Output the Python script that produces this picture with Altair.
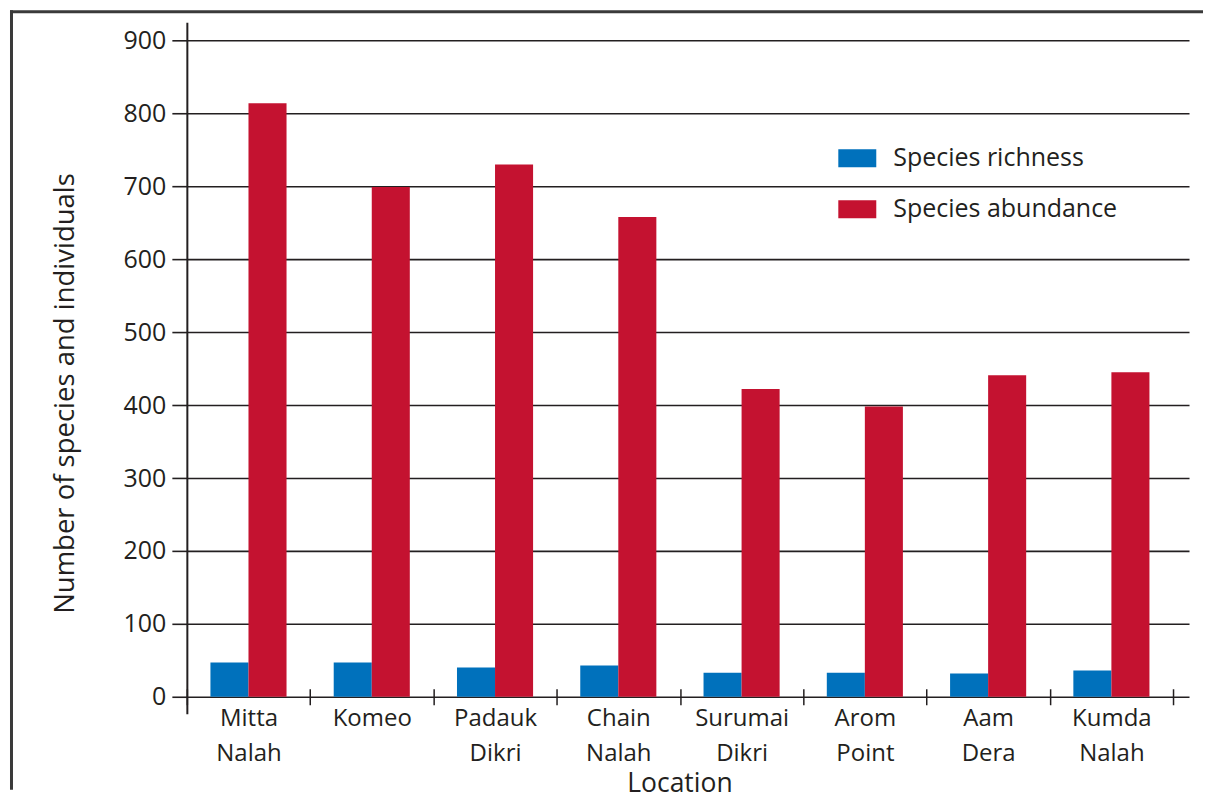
import altair as alt
import pandas as pd

locations = ["Mitta Nalah", "Komeo", "Padauk Dikri", "Chain Nalah",
             "Surumai Dikri", "Arom Point", "Aam Dera", "Kumda Nalah"]
richness = [47, 47, 40, 43, 33, 33, 32, 36]
abundance = [814, 699, 730, 658, 422, 398, 441, 445]
series = ["Species richness", "Species abundance"]
colors = ["#0071bc", "#c41230"]
y_ticks = [0, 100, 200, 300, 400, 500, 600, 700, 800, 900]

rows = []
for loc, r, a in zip(locations, richness, abundance):
    rows.append({"Location": loc, "Series": series[0], "Value": r})
    rows.append({"Location": loc, "Series": series[1], "Value": a})
df = pd.DataFrame(rows)

W, H = 1003, 692
FONT = "Open Sans"
INK = "#231f20"

bars = alt.Chart(df).mark_bar().encode(
    x=alt.X("Location:N", sort=locations,
            scale=alt.Scale(paddingInner=0, paddingOuter=0.0648, align=0),
            axis=alt.Axis(title="Location", labelExpr="split(datum.label, ' ')",
                          labelAngle=0, domain=False, offset=-25, tickSize=16,
                          tickBand="extent", tickColor=INK, tickWidth=1.5,
                          labelPadding=2, labelLineHeight=34.5, labelFontSize=24,
                          labelColor=INK, labelFont=FONT, titleFont=FONT,
                          titleFontSize=26.5, titleFontWeight="normal", titleColor=INK,
                          titlePadding=5, titleX=493, grid=False)),
    xOffset=alt.XOffset("Series:N", sort=series,
                        scale=alt.Scale(paddingOuter=0.62, paddingInner=0)),
    y=alt.Y("Value:Q", scale=alt.Scale(domain=[-23.3, 925], nice=False),
            axis=alt.Axis(values=y_ticks, title="Number of species and individuals",
                          grid=True, gridColor=INK, gridWidth=1.6,
                          tickSize=15, tickColor=INK, tickWidth=1.6,
                          domainColor=INK, domainWidth=2,
                          labelFontSize=25, labelColor=INK, labelFont=FONT,
                          labelPadding=6, titleFont=FONT, titleFontSize=27.5,
                          titleFontWeight="normal", titleColor=INK, titlePadding=44,
                          titleY=371)),
    y2=alt.datum(0),
    color=alt.Color("Series:N", sort=series,
                    scale=alt.Scale(domain=series, range=colors),
                    legend=alt.Legend(title=None, orient="none", legendX=652, legendY=117,
                                      symbolType="M-1,-0.474L1,-0.474L1,0.474L-1,0.474Z",
                                      symbolSize=1444, symbolStrokeWidth=0,
                                      labelFontSize=25, labelFont=FONT, labelColor=INK,
                                      labelLimit=0, labelOffset=17, rowPadding=19,
                                      padding=0)),
)

frame_df = pd.DataFrame({"k": [0]})
top_rule = alt.Chart(frame_df).mark_rule(color="#3a3a3a", strokeWidth=3).encode(
    x=alt.value(-177), x2=alt.value(W + 14), y=alt.value(-10.5))
left_rule = alt.Chart(frame_df).mark_rule(color="#3a3a3a", strokeWidth=3).encode(
    x=alt.value(-175.5), y=alt.value(-12), y2=alt.value(H + 76))

chart = alt.layer(bars, top_rule, left_rule).properties(
    width=W, height=H, background="white",
    padding={"left": 0, "top": 0, "right": 0, "bottom": 6}
).configure_view(stroke=None)

chart.save("out.html", embed_options={"renderer": "svg", "actions": False})
